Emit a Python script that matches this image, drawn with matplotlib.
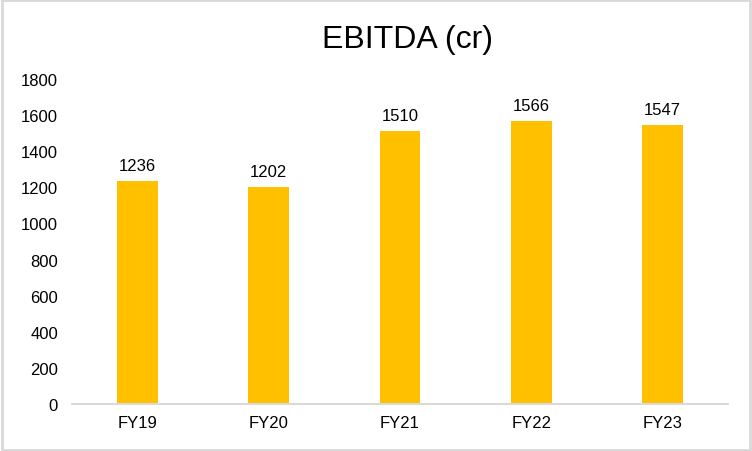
import matplotlib.pyplot as plt
from matplotlib.patches import Rectangle

plt.rcParams['font.family'] = ['Liberation Sans', 'DejaVu Sans']

years = ["FY19", "FY20", "FY21", "FY22", "FY23"]
ebitda = [1236, 1202, 1510, 1566, 1547]

fig = plt.figure(figsize=(7.52, 4.52), dpi=100)
ax = fig.add_axes([72 / 752, 1 - 405 / 452, 656 / 752, 325 / 452])

bars = ax.bar(years, ebitda, width=0.31, color="#FFC000", zorder=2)
for b, v in zip(bars, ebitda):
    ax.text(b.get_x() + b.get_width() / 2, v + 45, str(v),
            ha="center", va="bottom", fontsize=12)

ax.set_ylim(0, 1800)
ax.set_yticks(range(0, 1801, 200))
ax.set_xlim(-0.5, len(years) - 0.5)
ax.tick_params(axis="both", length=0, labelsize=12)
ax.tick_params(axis="y", pad=10)
ax.tick_params(axis="x", pad=8)
for s in ["top", "right", "left"]:
    ax.spines[s].set_visible(False)
ax.spines["bottom"].set_color("#D9D9D9")
ax.spines["bottom"].set_linewidth(1.5)

fig.text(408 / 752, 1 - 40 / 452, "EBITDA (cr)", ha="center", va="center", fontsize=23)

fig.patches.append(Rectangle((0.002, 0.003), 0.996, 0.994, transform=fig.transFigure,
                             fill=False, edgecolor="#D9D9D9", linewidth=2))

fig.savefig("out.png", dpi=100)
